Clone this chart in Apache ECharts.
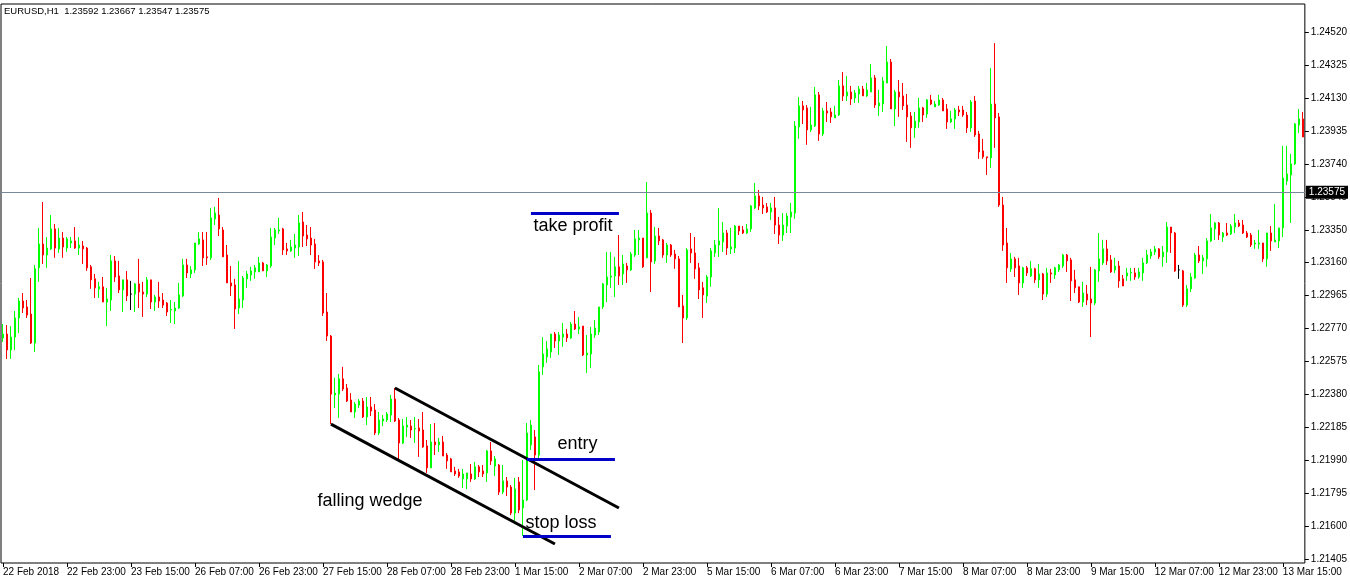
<!DOCTYPE html>
<html>
<head>
<meta charset="utf-8">
<title>EURUSD H1</title>
<script src="https://cdn.jsdelivr.net/npm/echarts@6.0.0/dist/echarts.min.js"></script>
<style>
html, body { margin: 0; padding: 0; background: #fff; }
#chart { width: 1350px; height: 584px; }
</style>
</head>
<body>
<div id="chart"></div>
<script>
// [open, close, low, high] per hour, from 22 Feb 2018 07:00
const ohlc = [
[1.22714,1.22738,1.22691,1.22797],[1.22738,1.22644,1.22591,1.22791],[1.22644,1.22720,1.22591,1.22785],[1.22720,1.22833,1.22644,1.22874],
[1.22833,1.22933,1.22744,1.22951],[1.22933,1.22892,1.22862,1.22980],[1.22898,1.22850,1.22833,1.22939],[1.22856,1.22685,1.22679,1.23069],
[1.22685,1.23123,1.22632,1.23146],[1.23129,1.23270,1.23046,1.23365],[1.23270,1.23205,1.23152,1.23518],[1.23205,1.23246,1.23129,1.23311],
[1.23241,1.23359,1.23235,1.23441],[1.23359,1.23246,1.23188,1.23388],[1.23241,1.23305,1.23217,1.23365],[1.23305,1.23252,1.23188,1.23341],
[1.23246,1.23300,1.23223,1.23311],[1.23276,1.23288,1.23246,1.23311],[1.23288,1.23246,1.23241,1.23370],[1.23246,1.23264,1.23205,1.23311],
[1.23258,1.23241,1.23152,1.23288],[1.23246,1.23129,1.23111,1.23252],[1.23135,1.23058,1.23005,1.23146],[1.23064,1.23011,1.22951,1.23093],
[1.23005,1.23017,1.22951,1.23046],[1.23017,1.22927,1.22927,1.23075],[1.22927,1.22945,1.22785,1.23011],[1.22939,1.23170,1.22874,1.23205],
[1.23170,1.23075,1.23046,1.23199],[1.23081,1.22999,1.22980,1.23170],[1.22999,1.23058,1.22868,1.23058],[1.23058,1.22963,1.22933,1.23111],
[1.22974,1.22974,1.22880,1.23052],[1.22974,1.23034,1.22868,1.23040],[1.23034,1.22986,1.22892,1.23182],[1.22986,1.22974,1.22839,1.23046],
[1.22974,1.23058,1.22957,1.23075],[1.23058,1.22927,1.22886,1.23058],[1.22927,1.22957,1.22874,1.22969],[1.22957,1.22933,1.22892,1.23046],
[1.22939,1.22909,1.22892,1.22980],[1.22921,1.22868,1.22845,1.22927],[1.22880,1.22883,1.22803,1.22939],[1.22874,1.22892,1.22797,1.22927],
[1.22892,1.22969,1.22886,1.23040],[1.22963,1.23146,1.22957,1.23182],[1.23146,1.23099,1.23069,1.23182],[1.23093,1.23117,1.23069,1.23140],
[1.23117,1.23276,1.23099,1.23276],[1.23270,1.23300,1.23264,1.23341],[1.23294,1.23188,1.23140,1.23341],[1.23194,1.23188,1.23146,1.23341],
[1.23188,1.23424,1.23176,1.23483],[1.23418,1.23453,1.23382,1.23489],[1.23441,1.23359,1.23317,1.23542],[1.23353,1.23194,1.23194,1.23370],
[1.23205,1.23040,1.23040,1.23264],[1.23040,1.23022,1.22963,1.23140],[1.23028,1.22886,1.22768,1.23064],[1.22892,1.22945,1.22856,1.23170],
[1.22939,1.23069,1.22892,1.23081],[1.23064,1.23093,1.23011,1.23111],[1.23087,1.23111,1.23052,1.23135],[1.23105,1.23129,1.23064,1.23146],
[1.23105,1.23158,1.23105,1.23194],[1.23158,1.23111,1.23111,1.23164],[1.23111,1.23146,1.23075,1.23152],[1.23140,1.23311,1.23129,1.23365],
[1.23305,1.23353,1.23264,1.23365],[1.23347,1.23353,1.23329,1.23424],[1.23359,1.23235,1.23205,1.23365],[1.23241,1.23229,1.23205,1.23276],
[1.23229,1.23252,1.23223,1.23294],[1.23246,1.23264,1.23188,1.23329],[1.23252,1.23394,1.23199,1.23441],[1.23400,1.23317,1.23252,1.23459],
[1.23323,1.23300,1.23258,1.23382],[1.23305,1.23264,1.23205,1.23370],[1.23270,1.23164,1.23123,1.23300],[1.23170,1.23158,1.23140,1.23205],
[1.23164,1.22862,1.22845,1.23176],[1.22868,1.22726,1.22697,1.22980],[1.22726,1.22383,1.22206,1.22732],[1.22378,1.22389,1.22301,1.22479],
[1.22383,1.22473,1.22242,1.22502],[1.22473,1.22413,1.22401,1.22544],[1.22419,1.22342,1.22336,1.22443],[1.22348,1.22277,1.22277,1.22389],
[1.22277,1.22324,1.22242,1.22336],[1.22318,1.22342,1.22301,1.22354],[1.22342,1.22248,1.22242,1.22360],[1.22248,1.22307,1.22200,1.22366],
[1.22307,1.22283,1.22253,1.22366],[1.22289,1.22153,1.22141,1.22324],[1.22153,1.22230,1.22141,1.22277],[1.22224,1.22236,1.22194,1.22259],
[1.22230,1.22265,1.22218,1.22277],[1.22259,1.22354,1.22218,1.22378],[1.22354,1.22224,1.22218,1.22419],[1.22230,1.22094,1.21994,1.22242],
[1.22094,1.22194,1.22088,1.22236],[1.22188,1.22200,1.22130,1.22248],[1.22194,1.22171,1.22124,1.22230],[1.22177,1.22180,1.22094,1.22248],
[1.22183,1.22165,1.22012,1.22236],[1.22171,1.22071,1.22065,1.22277],[1.22077,1.21947,1.21917,1.22112],[1.21947,1.22100,1.21947,1.22206],
[1.22100,1.22083,1.22023,1.22212],[1.22083,1.22100,1.22041,1.22124],[1.22100,1.22017,1.22017,1.22136],[1.22023,1.21988,1.21941,1.22035],
[1.22000,1.21923,1.21923,1.22006],[1.21929,1.21911,1.21899,1.21953],[1.21923,1.21899,1.21888,1.21941],[1.21882,1.21911,1.21828,1.21941],
[1.21882,1.21917,1.21822,1.21917],[1.21911,1.21882,1.21864,1.21970],[1.21882,1.21953,1.21876,1.21982],[1.21953,1.21923,1.21893,1.21964],
[1.21929,1.21911,1.21893,1.21964],[1.21917,1.22047,1.21864,1.22053],[1.22047,1.21988,1.21964,1.22100],[1.21958,1.22000,1.21899,1.22017],
[1.21964,1.21804,1.21787,1.21970],[1.21804,1.21870,1.21792,1.21964],[1.21870,1.21834,1.21781,1.21893],[1.21834,1.21680,1.21668,1.21846],
[1.21680,1.21822,1.21615,1.21888],[1.21864,1.21698,1.21680,1.21893],[1.21710,1.21757,1.21545,1.21994],[1.21757,1.22153,1.21751,1.22212],
[1.22083,1.22200,1.22053,1.22230],[1.22130,1.22023,1.21816,1.22171],[1.22023,1.22514,1.21994,1.22555],[1.22544,1.22620,1.22496,1.22720],
[1.22603,1.22650,1.22567,1.22697],[1.22632,1.22738,1.22597,1.22738],[1.22738,1.22697,1.22656,1.22750],[1.22697,1.22732,1.22614,1.22750],
[1.22720,1.22738,1.22662,1.22803],[1.22738,1.22715,1.22691,1.22768],[1.22715,1.22797,1.22709,1.22809],[1.22797,1.22768,1.22762,1.22874],
[1.22768,1.22780,1.22738,1.22839],[1.22785,1.22614,1.22608,1.22785],[1.22614,1.22626,1.22508,1.22732],[1.22620,1.22738,1.22538,1.22780],
[1.22732,1.22774,1.22715,1.22821],[1.22750,1.22898,1.22732,1.22898],[1.22898,1.23034,1.22886,1.23040],[1.23028,1.23075,1.22927,1.23223],
[1.23075,1.23081,1.23011,1.23223],[1.23081,1.23135,1.22957,1.23194],[1.23135,1.23081,1.23028,1.23323],[1.23093,1.23152,1.23028,1.23205],
[1.23140,1.23117,1.23040,1.23158],[1.23117,1.23211,1.23111,1.23223],[1.23205,1.23300,1.23194,1.23353],[1.23294,1.23305,1.23205,1.23353],
[1.23305,1.23135,1.23129,1.23305],[1.23188,1.23453,1.23188,1.23636],[1.23453,1.23164,1.22986,1.23471],[1.23170,1.23317,1.23152,1.23370],
[1.23317,1.23288,1.23264,1.23365],[1.23294,1.23205,1.23188,1.23300],[1.23205,1.23264,1.23158,1.23276],[1.23264,1.23205,1.23194,1.23270],
[1.23211,1.23182,1.23123,1.23235],[1.23182,1.22898,1.22898,1.23199],[1.22904,1.22833,1.22685,1.22969],[1.22833,1.23235,1.22821,1.23246],
[1.23241,1.23217,1.23158,1.23335],[1.23217,1.23123,1.23064,1.23311],[1.23129,1.22999,1.22945,1.23158],[1.23011,1.22969,1.22833,1.23046],
[1.22963,1.23075,1.22921,1.23087],[1.23075,1.23229,1.23017,1.23246],[1.23217,1.23264,1.23194,1.23294],[1.23264,1.23288,1.23194,1.23483],
[1.23282,1.23335,1.23223,1.23400],[1.23335,1.23246,1.23205,1.23353],[1.23241,1.23252,1.23211,1.23365],[1.23246,1.23376,1.23217,1.23382],
[1.23376,1.23347,1.23323,1.23376],[1.23353,1.23335,1.23329,1.23376],[1.23335,1.23359,1.23329,1.23388],[1.23359,1.23495,1.23341,1.23500],
[1.23483,1.23554,1.23477,1.23630],[1.23554,1.23495,1.23471,1.23589],[1.23500,1.23483,1.23447,1.23548],[1.23489,1.23459,1.23453,1.23512],
[1.23459,1.23483,1.23412,1.23512],[1.23483,1.23382,1.23329,1.23548],[1.23382,1.23323,1.23270,1.23430],[1.23323,1.23382,1.23288,1.23453],
[1.23376,1.23435,1.23335,1.23453],[1.23430,1.23459,1.23335,1.23512],[1.23453,1.23967,1.23418,1.23996],[1.23961,1.24086,1.23891,1.24139],
[1.24086,1.24062,1.23979,1.24115],[1.24074,1.23944,1.23856,1.24091],[1.23944,1.23973,1.23932,1.24080],[1.23967,1.24151,1.23961,1.24198],
[1.24151,1.23920,1.23879,1.24168],[1.23920,1.24056,1.23908,1.24074],[1.24056,1.24044,1.23991,1.24109],[1.24050,1.24021,1.23985,1.24074],
[1.24015,1.24032,1.24015,1.24086],[1.24032,1.24204,1.24026,1.24239],[1.24204,1.24145,1.24115,1.24286],[1.24145,1.24168,1.24115,1.24262],
[1.24168,1.24127,1.24091,1.24204],[1.24133,1.24162,1.24103,1.24180],[1.24156,1.24186,1.24103,1.24204],[1.24186,1.24145,1.24145,1.24204],
[1.24145,1.24180,1.24139,1.24221],[1.24168,1.24251,1.24168,1.24333],[1.24251,1.24091,1.24074,1.24268],[1.24086,1.24103,1.24026,1.24180],
[1.24097,1.24233,1.24050,1.24257],[1.24221,1.24345,1.24221,1.24440],[1.24345,1.24068,1.24068,1.24363],[1.24068,1.24168,1.23967,1.24180],
[1.24168,1.24139,1.24021,1.24239],[1.24145,1.24086,1.24062,1.24221],[1.24091,1.24021,1.23873,1.24156],[1.24026,1.23956,1.23838,1.24050],
[1.23956,1.23996,1.23897,1.24050],[1.23991,1.24074,1.23956,1.24133],[1.24074,1.24032,1.23991,1.24080],[1.24038,1.24121,1.24015,1.24127],
[1.24121,1.24097,1.24091,1.24151],[1.24080,1.24097,1.24080,1.24115],[1.24091,1.24121,1.24086,1.24151],[1.24121,1.24056,1.24056,1.24133],
[1.24068,1.23991,1.23950,1.24097],[1.23991,1.24009,1.23985,1.24056],[1.24009,1.24062,1.23950,1.24074],[1.24062,1.24050,1.24026,1.24086],
[1.24062,1.24032,1.24021,1.24086],[1.24032,1.23956,1.23926,1.24050],[1.23956,1.24109,1.23932,1.24121],[1.24115,1.23914,1.23902,1.24145],
[1.23920,1.23814,1.23773,1.23938],[1.23820,1.23785,1.23773,1.23891],[1.23785,1.23779,1.23678,1.23785],[1.23779,1.24097,1.23720,1.24310],
[1.24097,1.24015,1.23838,1.24457],[1.24021,1.23500,1.23489,1.24044],[1.23500,1.23264,1.23229,1.23548],[1.23276,1.23129,1.23040,1.23365],
[1.23123,1.23182,1.23105,1.23217],[1.23182,1.23129,1.23075,1.23194],[1.23140,1.23040,1.22969,1.23188],[1.23040,1.23129,1.23011,1.23135],
[1.23129,1.23099,1.23081,1.23140],[1.23081,1.23123,1.23075,1.23170],[1.23123,1.23058,1.23040,1.23129],[1.23058,1.23093,1.23011,1.23152],
[1.23093,1.22974,1.22939,1.23099],[1.22974,1.23099,1.22957,1.23129],[1.23099,1.23093,1.23040,1.23123],[1.23087,1.23129,1.23064,1.23135],
[1.23117,1.23146,1.23105,1.23152],[1.23140,1.23205,1.23129,1.23211],[1.23205,1.23170,1.23105,1.23211],[1.23176,1.23052,1.22933,1.23188],
[1.23058,1.23011,1.22980,1.23117],[1.23017,1.22927,1.22921,1.23017],[1.22927,1.22980,1.22898,1.23046],[1.22974,1.22939,1.22909,1.23028],
[1.22945,1.22921,1.22720,1.23135],[1.22921,1.23117,1.22909,1.23123],[1.23111,1.23182,1.23046,1.23335],[1.23158,1.23241,1.23146,1.23294],
[1.23241,1.23170,1.23146,1.23294],[1.23176,1.23105,1.23099,1.23205],[1.23117,1.23140,1.23099,1.23188],[1.23140,1.23052,1.23011,1.23170],
[1.23064,1.23022,1.23022,1.23087],[1.23081,1.23099,1.23052,1.23129],[1.23099,1.23102,1.23052,1.23129],[1.23099,1.23075,1.23058,1.23129],
[1.23075,1.23105,1.23064,1.23129],[1.23099,1.23158,1.23052,1.23188],[1.23158,1.23205,1.23152,1.23235],[1.23199,1.23223,1.23182,1.23241],
[1.23223,1.23241,1.23205,1.23258],[1.23241,1.23194,1.23182,1.23246],[1.23194,1.23223,1.23135,1.23258],[1.23223,1.23370,1.23158,1.23400],
[1.23370,1.23335,1.23217,1.23370],[1.23335,1.23111,1.23105,1.23341],[1.23117,1.23117,1.23064,1.23146],[1.23111,1.22909,1.22898,1.23117],
[1.22909,1.23005,1.22898,1.23028],[1.23005,1.23075,1.22986,1.23099],[1.23069,1.23205,1.23064,1.23217],[1.23205,1.23170,1.23158,1.23258],
[1.23170,1.23188,1.23093,1.23205],[1.23182,1.23288,1.23135,1.23305],[1.23288,1.23365,1.23282,1.23447],[1.23359,1.23394,1.23294,1.23400],
[1.23394,1.23323,1.23294,1.23400],[1.23311,1.23335,1.23282,1.23341],[1.23335,1.23323,1.23317,1.23394],[1.23329,1.23376,1.23323,1.23388],
[1.23370,1.23394,1.23335,1.23447],[1.23394,1.23376,1.23370,1.23412],[1.23382,1.23335,1.23329,1.23412],[1.23335,1.23311,1.23305,1.23347],
[1.23323,1.23264,1.23252,1.23335],[1.23270,1.23276,1.23241,1.23294],[1.23270,1.23276,1.23241,1.23353],[1.23276,1.23182,1.23164,1.23276],
[1.23182,1.23335,1.23135,1.23335],[1.23335,1.23288,1.23229,1.23376],[1.23282,1.23294,1.23282,1.23506],[1.23288,1.23365,1.23246,1.23365],
[1.23365,1.23660,1.23311,1.23850],[1.23642,1.23684,1.23619,1.23850],[1.23678,1.23743,1.23394,1.23802],[1.23743,1.23979,1.23737,1.23985],
[1.23973,1.24009,1.23926,1.24068],[1.24009,1.23902,1.23902,1.24050]
];

const priceTicks = [1.21405, 1.21600, 1.21795, 1.21990, 1.22185, 1.22380, 1.22575, 1.22770, 1.22965,
    1.23160, 1.23350, 1.23545, 1.23740, 1.23935, 1.24130, 1.24325, 1.24520];
const lastPrice = 1.23575;
const header = 'EURUSD,H1  1.23592 1.23667 1.23547 1.23575';

// trend lines of the wedge: [startIndex, startPrice, endIndex, endPrice]
const wedgeLines = [
    [82, 1.22206, 138, 1.21497],
    [98, 1.22419, 154, 1.21710]
];
// trade levels: [fromIndex, toIndex, price]
const levels = [
    [132, 154, 1.23453],
    [131, 153, 1.22000],
    [130, 152, 1.21544]
];
// text notes: [index, price, text]
const notes = [
    [132, 1.23376, 'take profit'],
    [138, 1.22088, 'entry'],
    [130, 1.21621, 'stop loss'],
    [78, 1.21751, 'falling wedge']
];

// hourly bars, weekends skipped
const monthNames = ['Jan', 'Feb', 'Mar', 'Apr', 'May', 'Jun', 'Jul', 'Aug', 'Sep', 'Oct', 'Nov', 'Dec'];
const hours = [];
let t = Date.UTC(2018, 1, 22, 7);
while (hours.length < ohlc.length) {
    const d = new Date(t);
    const wd = d.getUTCDay();
    if (wd !== 0 && wd !== 6) {
        const hh = String(d.getUTCHours()).padStart(2, '0');
        hours.push(hours.length === 0
            ? d.getUTCDate() + ' ' + monthNames[d.getUTCMonth()] + ' ' + d.getUTCFullYear()
            : d.getUTCDate() + ' ' + monthNames[d.getUTCMonth()] + ' ' + hh + ':00');
    }
    t += 3600000;
}

const font = 'Liberation Sans, Arial, sans-serif';
const chart = echarts.init(document.getElementById('chart'));

const candleData = ohlc.map(c => c[0] === c[1]
    ? { value: c, itemStyle: { color: '#000', color0: '#000', borderColor: '#000', borderColor0: '#000' } }
    : c);

const lineData = [];
wedgeLines.forEach(w => lineData.push([
    { coord: [w[0], w[1]], lineStyle: { color: '#000', width: 3, type: 'solid' } },
    { coord: [w[2], w[3]] }
]));
levels.forEach(l => lineData.push([
    { coord: [l[0], l[2]], lineStyle: { color: '#0000c8', width: 3, type: 'solid' } },
    { coord: [l[1], l[2]] }
]));

const option = {
    animation: false,
    backgroundColor: '#fff',
    title: {
        text: header, left: 4, top: 6, padding: 0,
        textStyle: { fontFamily: font, fontSize: 9.5, fontWeight: 'normal', color: '#000' }
    },
    grid: {
        left: 1, right: 45, top: 4, bottom: 21,
        show: true, borderColor: '#000', borderWidth: 1, backgroundColor: '#fff'
    },
    xAxis: {
        type: 'category',
        data: hours,
        boundaryGap: true,
        axisLine: { show: false },
        axisTick: { show: true, interval: 15, alignWithLabel: true, length: 4, lineStyle: { color: '#000' } },
        axisLabel: {
            interval: 15, align: 'left', margin: 4,
            fontFamily: font, fontSize: 10, color: '#000'
        },
        splitLine: { show: false }
    },
    yAxis: {
        type: 'value',
        position: 'right',
        min: 1.21385,
        max: 1.24688,
        axisLine: { show: false },
        axisTick: { show: true, customValues: priceTicks, length: 4, lineStyle: { color: '#000' } },
        axisLabel: {
            customValues: priceTicks, margin: 6,
            formatter: v => v.toFixed(5),
            fontFamily: font, fontSize: 10, color: '#000'
        },
        splitLine: { show: false }
    },
    series: [{
        // current price line with its label on the axis
        type: 'line',
        data: [],
        markLine: {
            silent: true,
            precision: 5,
            symbol: ['none', 'none'],
            lineStyle: { color: '#778899', width: 1, type: 'solid' },
            label: {
                show: true, position: 'end', distance: 1,
                formatter: lastPrice.toFixed(5),
                color: '#fff', backgroundColor: '#000',
                fontFamily: font, fontSize: 10, padding: [2, 3, 1, 3]
            },
            data: [{ yAxis: lastPrice }]
        }
    }, {
        type: 'candlestick',
        data: candleData,
        barWidth: 2,
        itemStyle: {
            color: '#00ff00', color0: '#ff0000',
            borderColor: '#00ff00', borderColor0: '#ff0000', borderWidth: 1
        },
        markLine: {
            silent: true,
            precision: 5,
            symbol: ['none', 'none'],
            lineStyle: { type: 'solid' },
            label: { show: false },
            data: lineData
        },
        markPoint: {
            silent: true,
            symbol: 'circle',
            symbolSize: 1,
            itemStyle: { color: 'transparent' },
            data: notes.map(n => ({
                coord: [n[0], n[1]],
                label: {
                    show: true, position: 'right', distance: 2,
                    formatter: n[2], color: '#000',
                    fontFamily: font, fontSize: 18
                }
            }))
        }
    }]
};

chart.setOption(option);
</script>
</body>
</html>
